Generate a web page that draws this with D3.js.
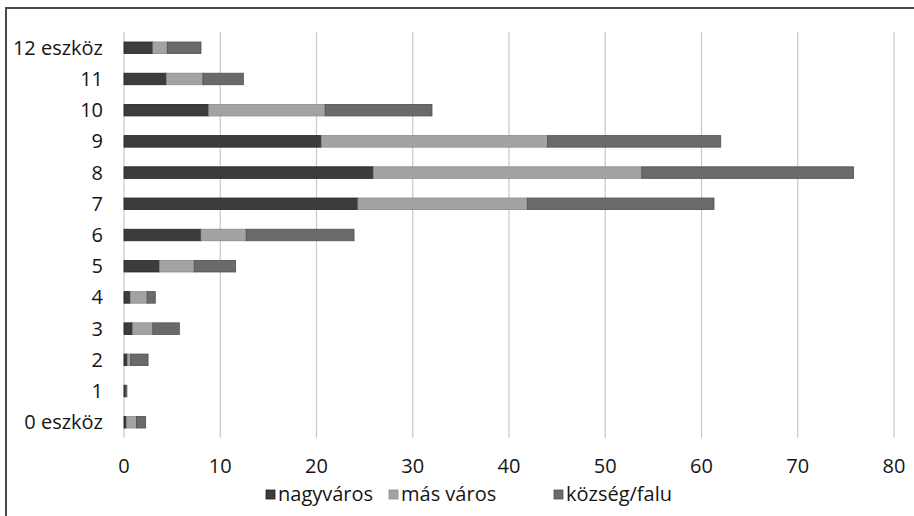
<!DOCTYPE html>
<html>
<head>
<meta charset="utf-8">
<script src="https://cdn.jsdelivr.net/npm/d3@7"></script>
<style>
  body { margin: 0; background: #fff; }
  svg { display: block; }
</style>
</head>
<body>
<div id="container"></div>
<script>
// categories, bottom to top
const categories = ["0 eszköz", "1", "2", "3", "4", "5", "6", "7", "8", "9", "10", "11", "12 eszköz"];
const seriesNames = ["nagyváros", "más város", "község/falu"];
const nagyvaros = [0.25, 0.15, 0.35, 0.9, 0.65, 3.7, 8.0, 24.3, 25.9, 20.5, 8.8, 4.4, 3.0];
const masVaros  = [1.05, 0, 0.35, 2.1, 1.75, 3.6, 4.7, 17.6, 27.9, 23.5, 12.1, 3.8, 1.5];
const kozsegFalu = [0.95, 0.15, 1.8, 2.75, 0.85, 4.3, 11.2, 19.4, 22.0, 18.0, 11.1, 4.2, 3.5];
const xTicks = [0, 10, 20, 30, 40, 50, 60, 70, 80];

const width = 914, height = 516;
const colors = ["#3c3c3c", "#a3a3a3", "#6a6a6a"];
const strokes = ["#222222", "#8a8a8a", "#505050"];
const fontPolice = "'Open Sans', sans-serif";
const textColor = "#151515";

const svg = d3.select("#container").append("svg")
  .attr("width", width)
  .attr("height", height);

// cadre (haut et gauche seulement)
svg.append("path")
  .attr("d", "M6,516 L6,8 L914,8")
  .attr("fill", "none")
  .attr("stroke", "#4a4a4a")
  .attr("stroke-width", 2);

const x = d3.scaleLinear().domain([0, 80]).range([124, 894]);
const y = d3.scaleBand()
  .domain(categories.slice().reverse())
  .range([32, 438])
  .paddingInner(0.63)
  .paddingOuter(0.32);

// gridlines
svg.append("g").selectAll("line")
  .data(xTicks)
  .enter().append("line")
    .attr("x1", d => x(d)).attr("x2", d => x(d))
    .attr("y1", 32).attr("y2", 438)
    .attr("stroke", "#c8c8c8")
    .attr("stroke-width", 1.2);

// stacked data
const rows = categories.map((c, i) => ({cat: c, 0: nagyvaros[i], 1: masVaros[i], 2: kozsegFalu[i]}));
const stack = d3.stack().keys([0, 1, 2])(rows);

svg.append("g").selectAll("g")
  .data(stack)
  .enter().append("g")
    .attr("fill", d => colors[d.key])
    .attr("stroke", d => strokes[d.key])
    .attr("stroke-width", 0.8)
  .selectAll("rect")
  .data(d => d)
  .enter().append("rect")
    .attr("x", d => x(d[0]))
    .attr("y", d => y(d.data.cat))
    .attr("width", d => Math.max(0, x(d[1]) - x(d[0])))
    .attr("height", y.bandwidth());

// category labels
svg.append("g").selectAll("text")
  .data(categories)
  .enter().append("text")
    .attr("x", 103)
    .attr("y", d => y(d) + y.bandwidth() / 2)
    .attr("dy", "0.35em")
    .style("text-anchor", "end")
    .style("font-family", fontPolice)
    .style("font-size", "20px")
    .style("fill", textColor)
    .text(d => d);

// x tick labels
svg.append("g").selectAll("text")
  .data(xTicks)
  .enter().append("text")
    .attr("x", d => x(d))
    .attr("y", 466)
    .attr("dy", "0.35em")
    .style("text-anchor", "middle")
    .style("font-family", fontPolice)
    .style("font-size", "20px")
    .style("fill", textColor)
    .text(d => d);

// legend
const legendX = [266, 389, 554];
const legend = svg.append("g").selectAll("g")
  .data(seriesNames)
  .enter().append("g")
    .attr("transform", (d, i) => "translate(" + legendX[i] + ",494)");
legend.append("rect")
  .attr("x", 0).attr("y", -4)
  .attr("width", 9).attr("height", 9)
  .attr("fill", (d, i) => colors[i])
  .attr("stroke", (d, i) => strokes[i])
  .attr("stroke-width", 0.8);
legend.append("text")
  .attr("x", 12)
  .attr("dy", "0.35em")
  .style("font-family", fontPolice)
  .style("font-size", "20px")
  .style("fill", textColor)
  .text(d => d);
</script>
</body>
</html>
